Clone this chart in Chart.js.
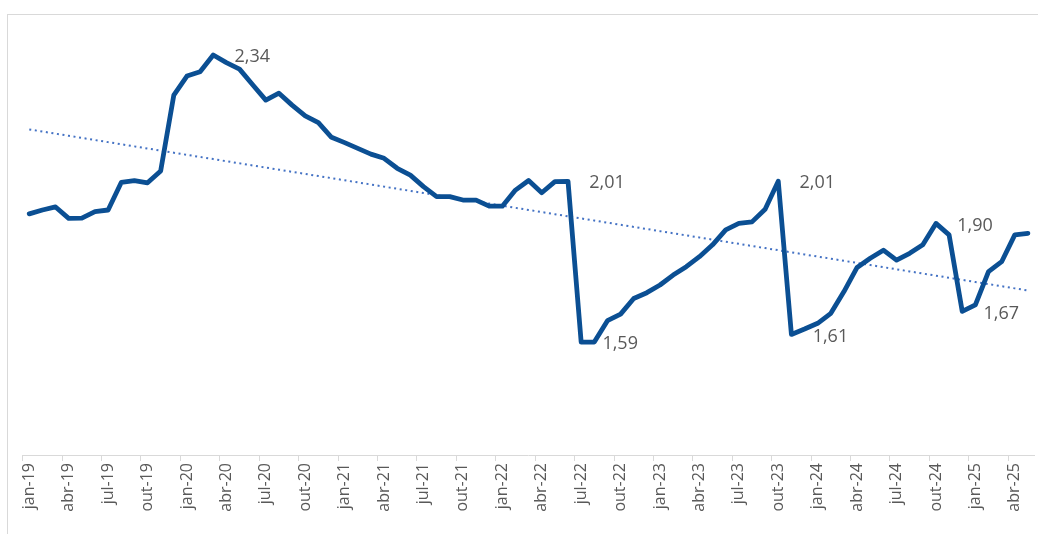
<!DOCTYPE html>
<html>
<head>
<meta charset="utf-8">
<script src="https://cdn.jsdelivr.net/npm/chart.js@4.4.1/dist/chart.umd.min.js"></script>
<style>
  html, body { margin: 0; padding: 0; background: #fff; }
  #wrap { width: 1038px; height: 534px; position: relative; }
</style>
</head>
<body>
<div id="wrap"><canvas id="chart"></canvas></div>
<script>
const monthNames = ['jan', 'fev', 'mar', 'abr', 'mai', 'jun', 'jul', 'ago', 'set', 'out', 'nov', 'dez'];

// jan-19 .. mai-25
const months = [];
for (let y = 19; y <= 25; y++) {
    for (let m = 0; m < 12; m++) {
        if (y === 25 && m > 4) break;
        months.push(monthNames[m] + '-' + y);
    }
}

const values = [
    1.925, 1.935, 1.943, 1.913, 1.914, 1.931, 1.935, 2.007, 2.012, 2.006, 2.037, 2.235,
    2.285, 2.296, 2.34, 2.32, 2.303, 2.262, 2.222, 2.24, 2.209, 2.181, 2.163, 2.125,
    2.111, 2.096, 2.081, 2.07, 2.044, 2.026, 1.996, 1.97, 1.97, 1.961, 1.961, 1.945,
    1.945, 1.987, 2.012, 1.98, 2.009, 2.01, 1.59, 1.59, 1.646, 1.663, 1.704, 1.719,
    1.739, 1.765, 1.787, 1.813, 1.844, 1.883, 1.90, 1.904, 1.937, 2.01, 1.61, 1.624,
    1.639, 1.665, 1.722, 1.785, 1.809, 1.83, 1.804, 1.822, 1.844, 1.90, 1.87, 1.67,
    1.687, 1.774, 1.80, 1.87, 1.874
];

// points that carry a value label
const labelledPoints = [14, 41, 42, 57, 58, 69, 71];

// linear trend line (least squares), like Excel's trendline
function linearTrend(ys) {
    const n = ys.length;
    let sx = 0, sy = 0, sxy = 0, sxx = 0;
    ys.forEach((y, x) => { sx += x; sy += y; sxy += x * y; sxx += x * x; });
    const b = (n * sxy - sx * sy) / (n * sxx - sx * sx);
    const a = (sy - b * sx) / n;
    return ys.map((_, x) => a + b * x);
}
const trend = linearTrend(values);

const frame = {
    id: 'frame',
    beforeDraw(chart) {
        const c = chart.ctx;
        c.save();
        c.strokeStyle = '#d9d9d9';
        c.lineWidth = 1;
        c.strokeRect(7.5, 14.5, 1100, 600);
        c.restore();
    }
};

const valueLabels = {
    id: 'valueLabels',
    afterDatasetsDraw(chart) {
        const c = chart.ctx;
        const meta = chart.getDatasetMeta(0);
        c.save();
        c.font = '18px "Open Sans"';
        c.fillStyle = '#595959';
        c.textAlign = 'center';
        c.textBaseline = 'middle';
        labelledPoints.forEach(i => {
            const p = meta.data[i];
            c.fillText(values[i].toFixed(2).replace('.', ','), p.x + 39, p.y + 2);
        });
        c.restore();
    }
};

new Chart(document.getElementById('chart'), {
    type: 'line',
    data: {
        labels: months,
        datasets: [{
            data: values,
            borderColor: '#0b4f93',
            borderWidth: 4.8,
            borderJoinStyle: 'round',
            borderCapStyle: 'round',
            pointRadius: 0,
            tension: 0
        }, {
            data: trend,
            borderColor: '#4472c4',
            borderWidth: 2,
            borderDash: [2, 3.6],
            pointRadius: 0,
            tension: 0
        }]
    },
    options: {
        responsive: true,
        maintainAspectRatio: false,
        animation: false,
        layout: {
            padding: { left: 22.7, right: 3.5, top: 32, bottom: 0 }
        },
        plugins: {
            legend: { display: false },
            tooltip: { enabled: false }
        },
        scales: {
            x: {
                type: 'category',
                offset: true,
                grid: {
                    offset: true,
                    drawOnChartArea: false,
                    drawTicks: true,
                    tickLength: 6,
                    color: ctx => ctx.index % 3 === 0 ? '#d9d9d9' : 'rgba(0,0,0,0)'
                },
                border: { display: true, color: '#d9d9d9', width: 1 },
                ticks: {
                    autoSkip: false,
                    maxRotation: 90,
                    minRotation: 90,
                    padding: 2,
                    color: '#595959',
                    font: { family: '"Open Sans"', size: 16 },
                    callback: (val, idx) => idx % 3 === 0 ? months[idx] : ''
                },
                afterFit: scale => {
                    scale.height = 79;
                    scale.paddingLeft = 0;
                    scale.paddingRight = 0;
                }
            },
            y: {
                display: false,
                min: 1.295,
                max: 2.4
            }
        }
    },
    plugins: [frame, valueLabels]
});
</script>
</body>
</html>
